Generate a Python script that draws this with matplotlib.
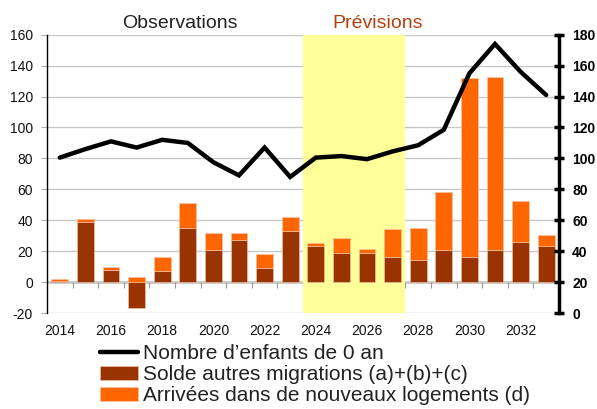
import matplotlib
matplotlib.use("Agg")
import matplotlib.pyplot as plt
import numpy as np

plt.rcParams['font.family'] = ['Liberation Sans', 'DejaVu Sans']
plt.rcParams['axes.unicode_minus'] = False

years = list(range(2014, 2034))
# solde autres migrations (a)+(b)+(c), axe gauche
solde = [1, 39, 8, -17, 7, 35, 21, 27, 9, 33,
         23.5, 18.5, 18.5, 16.5, 14.5, 21, 16, 21, 26, 23.5]
# total avec arrivées dans de nouveaux logements (d)
total = [2, 41, 10, 3, 16, 51, 32, 32, 18, 42,
         25.5, 28.5, 21.5, 34.5, 35, 58.5, 132, 132.5, 52.5, 30.5]
# nombre d'enfants de 0 an, axe droit
enfants = [100.5, 106, 111, 107, 112, 110, 97.5, 89, 107, 88,
           100.5, 101.5, 99.5, 104.5, 108.5, 118.5, 155, 174, 156, 141]
xlabels = list(range(2014, 2034, 2))

dark = '#993300'
orange = '#ff6600'

x = np.array(years)
solde = np.array(solde)
total = np.array(total)
arrivees = np.where(solde < 0, total, total - solde)
base = np.where(solde < 0, 0, solde)

fig = plt.figure(figsize=(5.97, 4.09), dpi=100)
ax = fig.add_axes([0.0787, 0.2347, 0.8576, 0.6805])

ax.axvspan(2023.5, 2027.5, color='#ffff99', zorder=0.6, lw=0)
ax.bar(x, solde, width=0.66, color=dark, zorder=2,
       edgecolor='#f3c9b0', linewidth=0.4, label='Solde autres migrations (a)+(b)+(c)')
ax.bar(x, arrivees, bottom=base, width=0.66, color=orange, zorder=2,
       edgecolor='#f3c9b0', linewidth=0.4, label='Arrivées dans de nouveaux logements (d)')

ax.set_xlim(2013.5, 2033.5)
ax.set_ylim(-20, 160)
ax.set_yticks(range(-20, 161, 20))
ax.grid(axis='y', color='#c8c8c8', lw=1)
ax.set_axisbelow(True)
ax.set_xticks(xlabels)
ax.tick_params(axis='x', length=0, pad=8, labelsize=10, labelcolor='#111111')
ax.tick_params(axis='y', length=4, color='#b0b0b0', pad=6, labelsize=10, labelcolor='#111111')
for s in ['top', 'right', 'bottom']:
    ax.spines[s].set_visible(False)
ax.spines['left'].set_color('black')
ax.spines['left'].set_linewidth(1)

# zero line with category ticks
sec = ax.secondary_xaxis(20 / 180)
sec.set_xticks(np.arange(2014.5, 2033.5, 1))
sec.set_xticklabels([])
sec.tick_params(length=4, color='#999999', direction='out')
sec.spines['bottom'].set_color('black')
sec.spines['bottom'].set_linewidth(1)

ax2 = ax.twinx()
ax2.plot(x, enfants, color='black', lw=3.2, zorder=5, label='Nombre d’enfants de 0 an',
         solid_joinstyle='miter', solid_capstyle='round')
ax2.set_ylim(0, 180)
ax2.set_yticks(range(0, 181, 20))
for s in ['top', 'left', 'bottom']:
    ax2.spines[s].set_visible(False)
ax2.spines['right'].set_linewidth(2.5)
ax2.tick_params(axis='y', direction='inout', length=7, width=2.5, pad=6, labelsize=10)
for t in ax2.get_yticklabels():
    t.set_fontweight('bold')

fig.text(180 / 597, 1 - 23 / 409, 'Observations', fontsize=14, ha='center', va='center',
         color='#222222')
fig.text(378 / 597, 1 - 23 / 409, 'Prévisions', fontsize=14, ha='center', va='center',
         color='#b5400f')

h1, l1 = ax2.get_legend_handles_labels()
h2, l2 = ax.get_legend_handles_labels()
fig.legend(h1 + h2, l1 + l2, loc='upper left', bbox_to_anchor=(100 / 597, 1 - 344 / 409),
           frameon=False, fontsize=15, borderpad=0, borderaxespad=0,
           handlelength=1.8, handletextpad=0.25, labelspacing=0.1, labelcolor='#222222')

fig.savefig('out.png', dpi=100)
